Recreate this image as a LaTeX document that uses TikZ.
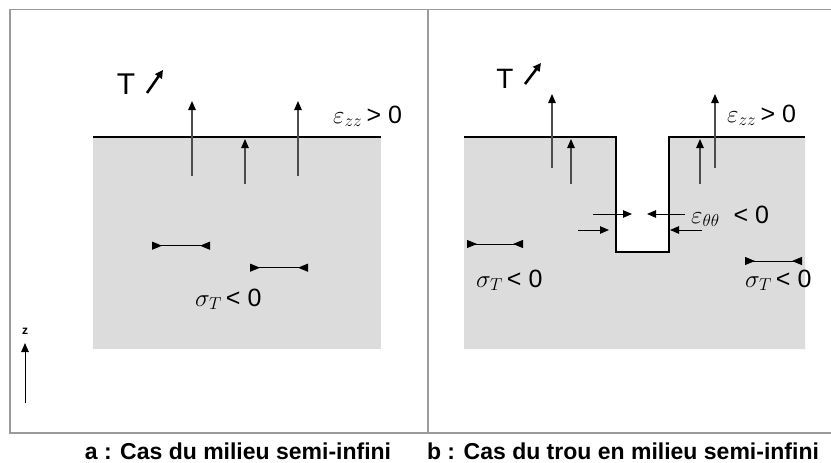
\documentclass[tikz,border=0pt]{standalone}
\usepackage{fontspec}
\setmainfont{Liberation Sans}
\usetikzlibrary{arrows.meta}
\definecolor{soil}{RGB}{220,220,220}
\definecolor{framegray}{RGB}{155,155,155}
\begin{document}
\begin{tikzpicture}[x=1pt,y=-1pt,
  frameline/.style={draw=framegray,line width=1.4pt},
  surf/.style={line width=2.8pt,line join=miter},
  uparr/.style={draw=black!70,line width=1.2pt,-{Triangle[length=9pt,width=7.5pt,color=black]}},
  tarr/.style={line width=2.6pt,-{Triangle[length=8pt,width=8pt]}},
  harr/.style={line width=1pt,-{Triangle[length=9pt,width=7.5pt]}},
  bar/.style={line width=1pt,{Triangle[reversed,length=10pt,width=8pt]}-{Triangle[reversed,length=10pt,width=8pt]}},
  lbl/.style={inner sep=0pt,anchor=base west,font=\fontsize{25}{29}\selectfont},
  tlbl/.style={inner sep=0pt,font=\fontsize{30}{34}\selectfont},
  captext/.style={inner sep=0pt,anchor=base,font=\fontsize{23}{27}\selectfont\bfseries}]
\useasboundingbox (0,0) rectangle (831,463);
\fill[white] (0,0) rectangle (831,463);
% soil
\fill[soil] (93,137) rectangle (381,349);
\fill[soil] (464,137) -- (616,137) -- (616,252) -- (669,252) -- (669,137) -- (805,137) -- (805,349) -- (464,349) -- cycle;
% surfaces
\coordinate (sl1) at (93,137); \coordinate (sl2) at (381,137);
\draw[surf] (sl1) -- (sl2);
\coordinate (r1) at (464,137); \coordinate (r2) at (616,137); \coordinate (r3) at (616,252);
\coordinate (r4) at (669,252); \coordinate (r5) at (669,137); \coordinate (r6) at (805,137);
\draw[surf] (r1) -- (r2) -- (r3) -- (r4) -- (r5) -- (r6);
% frame
\coordinate (f1) at (831,9.5); \coordinate (f2) at (10,9.5); \coordinate (f3) at (10,433); \coordinate (f4) at (831,433);
\coordinate (d1) at (428,9.5); \coordinate (d2) at (428,433);
\draw[frameline] (f1) -- (f2) -- (f3) -- (f4);
\draw[frameline] (d1) -- (d2);
% left up arrows
\coordinate (ua1) at (192,176); \coordinate (ub1) at (192,101);
\coordinate (ua2) at (245,184); \coordinate (ub2) at (245,139);
\coordinate (ua3) at (298,176); \coordinate (ub3) at (298,101);
\draw[uparr] (ua1) -- (ub1);
\draw[uparr] (ua2) -- (ub2);
\draw[uparr] (ua3) -- (ub3);
% right up arrows
\coordinate (va1) at (552,168); \coordinate (vb1) at (552,94);
\coordinate (va2) at (571,184); \coordinate (vb2) at (571,139);
\coordinate (va3) at (700,184); \coordinate (vb3) at (700,139);
\coordinate (va4) at (715,168); \coordinate (vb4) at (715,94);
\draw[uparr] (va1) -- (vb1);
\draw[uparr] (va2) -- (vb2);
\draw[uparr] (va3) -- (vb3);
\draw[uparr] (va4) -- (vb4);
% T labels
\node[tlbl] (tl) at (126,84) {T};
\coordinate (tla) at (147,93); \coordinate (tlb) at (163,70);
\draw[tarr] (tla) -- (tlb);
\node[tlbl,font=\fontsize{28}{32}\selectfont] (tr) at (505,79) {T};
\coordinate (tra) at (525,84); \coordinate (trb) at (541,63);
\draw[tarr] (tra) -- (trb);
% strain labels
\node[lbl] (ezl) at (333,123) {$\varepsilon_{zz}$\,> 0};
\node[lbl] (ezr) at (727,122) {$\varepsilon_{zz}$\,> 0};
\node[lbl] (eth) at (691,223) {$\varepsilon_{\theta\theta}$\ \ < 0};
\node[lbl] (sl) at (195,306) {$\sigma_T$\,< 0};
\node[lbl] (sr1) at (476,287) {$\sigma_T$\,< 0};
\node[lbl] (sr2) at (745,287) {$\sigma_T$\,< 0};
% compression bars
\coordinate (b1a) at (152,245.7); \coordinate (b1b) at (210,245.7);
\coordinate (b2a) at (250,267.7); \coordinate (b2b) at (308,267.7);
\coordinate (b3a) at (467,244); \coordinate (b3b) at (523,244);
\coordinate (b4a) at (745,261); \coordinate (b4b) at (802,261);
\draw[bar] (b1a) -- (b1b);
\draw[bar] (b2a) -- (b2b);
\draw[bar] (b3a) -- (b3b);
\draw[bar] (b4a) -- (b4b);
% hole arrows
\coordinate (h1a) at (593,214); \coordinate (h1b) at (632,214);
\coordinate (h2a) at (685,214); \coordinate (h2b) at (647,214);
\coordinate (h3a) at (578,230); \coordinate (h3b) at (609,230);
\coordinate (h4a) at (702,230); \coordinate (h4b) at (670,230);
\draw[harr] (h1a) -- (h1b);
\draw[harr] (h2a) -- (h2b);
\draw[harr] (h3a) -- (h3b);
\draw[harr] (h4a) -- (h4b);
% z axis
\coordinate (za) at (25,403); \coordinate (zb) at (25,343);
\draw[line width=1pt,-{Triangle[length=9pt,width=7.5pt]}] (za) -- (zb);
\node[inner sep=0pt,font=\fontsize{12}{14}\selectfont\bfseries] (zl) at (25,331) {z};
% captions
\node[captext] (ca) at (238,459) {a : Cas du milieu semi-infini};
\node[captext] (cb) at (623,459) {b : Cas du trou en milieu semi-infini};
\end{tikzpicture}
\end{document}
